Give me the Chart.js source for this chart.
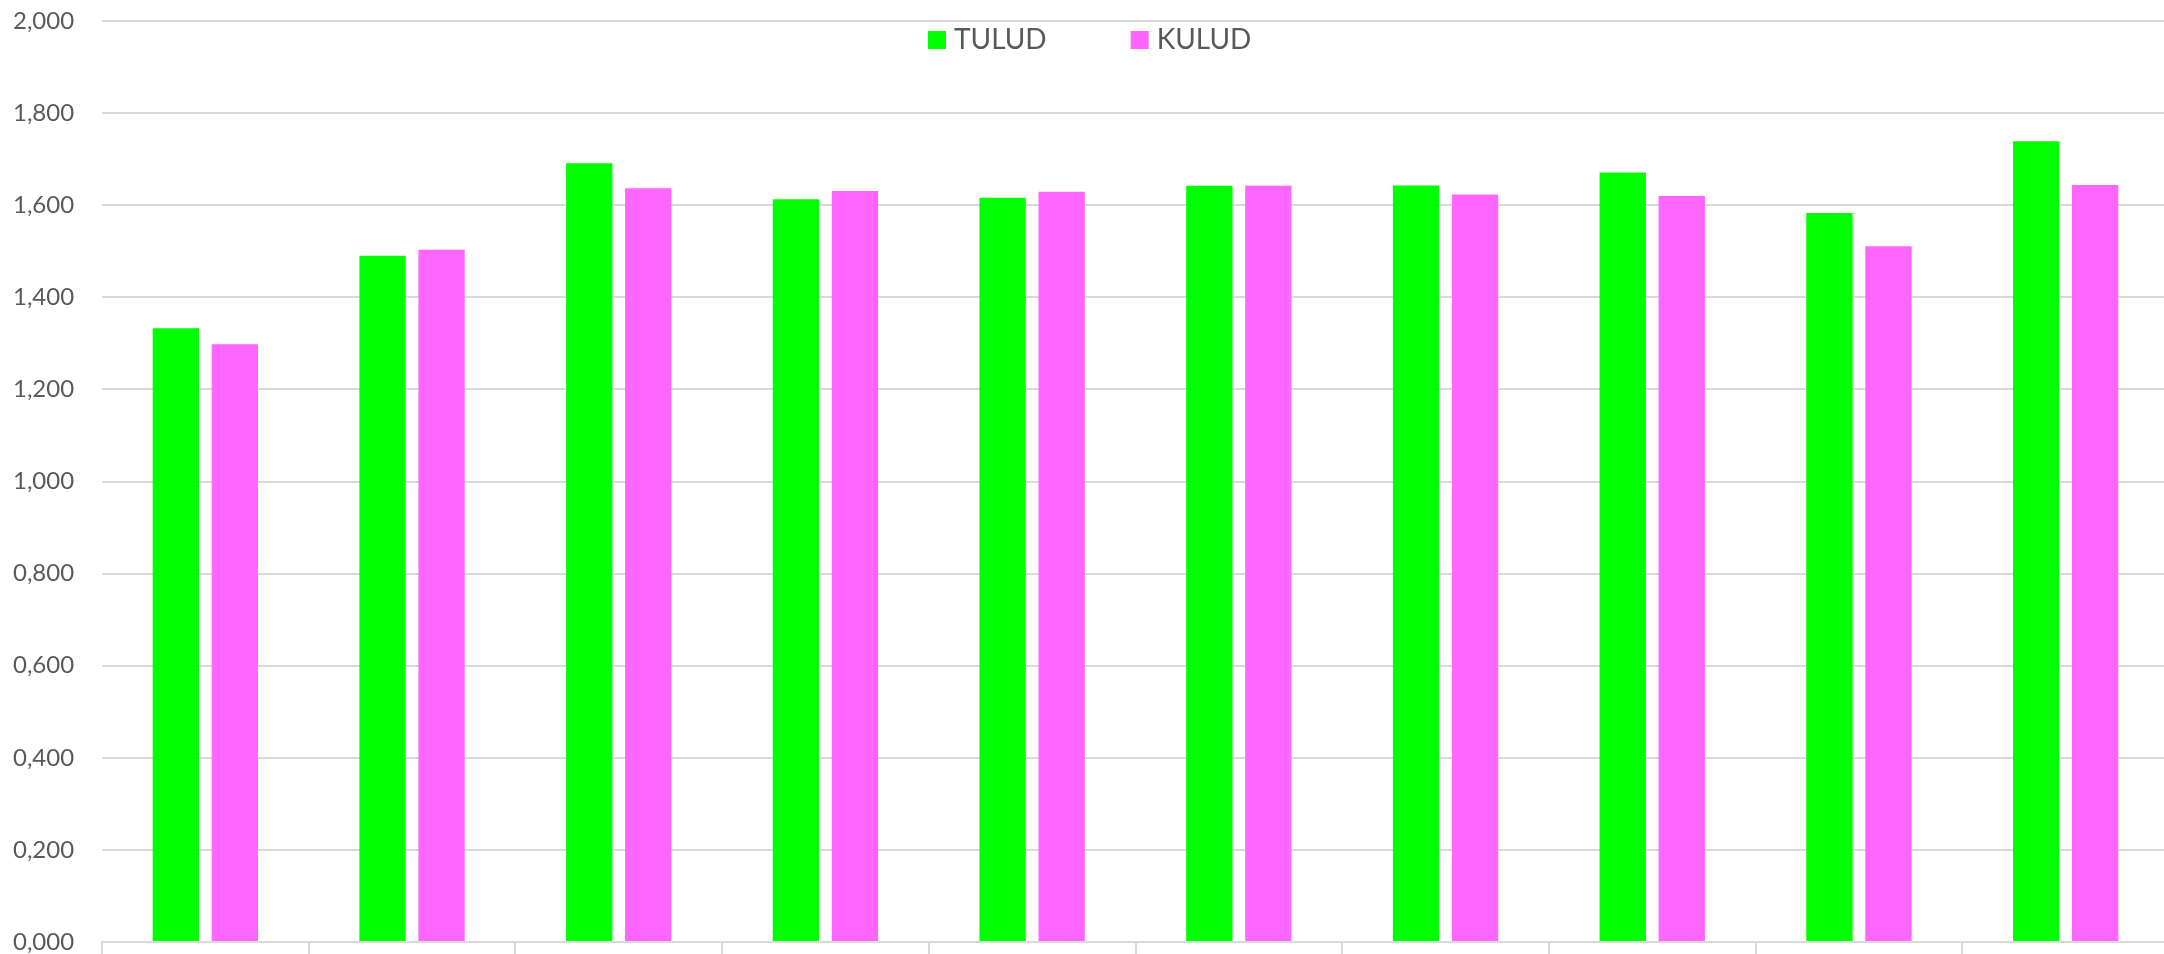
<!DOCTYPE html>
<html lang="et">
<head>
    <meta charset="UTF-8">
    <title>TULUD / KULUD</title>
    <script src="https://cdn.jsdelivr.net/npm/chart.js"></script>
    <style>
        html, body {
            margin: 0;
            padding: 0;
            background: #ffffff;
            overflow: hidden;
        }
        #chartBox {
            position: relative;
            width: 2169px;
            height: 954px;
        }
    </style>
</head>
<body>
    <div id="chartBox">
        <canvas id="mainChart" width="2169" height="954"></canvas>
    </div>

    <script>
        // andmed (loetud pildilt)
        const categories = ['1', '2', '3', '4', '5', '6', '7', '8', '9', '10'];
        const tulud = [1.333, 1.490, 1.691, 1.613, 1.616, 1.642, 1.643, 1.671, 1.583, 1.739];
        const kulud = [1.298, 1.503, 1.637, 1.631, 1.629, 1.642, 1.623, 1.620, 1.511, 1.644];
        const yTicks = [0, 0.2, 0.4, 0.6, 0.8, 1.0, 1.2, 1.4, 1.6, 1.8, 2.0];

        const gridColor = '#d9d9d9';
        const textColor = '#595959';

        // legend drawn inside the plot area, like the Excel one
        const insideLegend = {
            id: 'insideLegend',
            afterDraw(chart) {
                const ctx = chart.ctx;
                ctx.save();
                ctx.font = '28px Lato';
                ctx.textBaseline = 'alphabetic';
                let x = 928;
                chart.data.datasets.forEach((ds) => {
                    ctx.fillStyle = ds.backgroundColor;
                    ctx.fillRect(x, 31, 18, 18);
                    ctx.fillStyle = textColor;
                    ctx.fillText(ds.label, x + 26, 49);
                    x += 26 + ctx.measureText(ds.label).width + 84;
                });
                ctx.restore();
            }
        };

        const ctx = document.getElementById('mainChart').getContext('2d');
        new Chart(ctx, {
            type: 'bar',
            data: {
                labels: categories,
                datasets: [
                    {
                        label: 'TULUD',
                        data: tulud,
                        backgroundColor: '#00ff00',
                        borderWidth: 0
                    },
                    {
                        label: 'KULUD',
                        data: kulud,
                        backgroundColor: '#ff66ff',
                        borderWidth: 0
                    }
                ]
            },
            options: {
                responsive: false,
                animation: false,
                layout: {
                    padding: { top: 21, left: 13, right: 0, bottom: 0 }
                },
                datasets: {
                    bar: {
                        categoryPercentage: 0.571,
                        barPercentage: 0.785
                    }
                },
                plugins: {
                    legend: { display: false },
                    tooltip: { enabled: false }
                },
                scales: {
                    x: {
                        ticks: { display: false },
                        grid: {
                            offset: true,
                            drawOnChartArea: false,
                            drawTicks: true,
                            tickLength: 12,
                            color: gridColor,
                            lineWidth: 2
                        },
                        border: { color: gridColor, width: 2 },
                        afterFit: (scale) => { scale.height = 12; }
                    },
                    y: {
                        min: 0,
                        max: 2,
                        afterBuildTicks: (scale) => {
                            scale.ticks = yTicks.map(v => ({ value: v }));
                        },
                        ticks: {
                            color: textColor,
                            font: { family: 'Lato', size: 24, lineHeight: 1.0 },
                            padding: 0,
                            crossAlign: 'far',
                            callback: (v) => Number(v).toFixed(3).replace('.', ',')
                        },
                        grid: {
                            color: gridColor,
                            lineWidth: 2,
                            drawTicks: false
                        },
                        border: { display: false },
                        afterFit: (scale) => { scale.width = 89; }
                    }
                }
            },
            plugins: [insideLegend]
        });
    </script>
</body>
</html>
